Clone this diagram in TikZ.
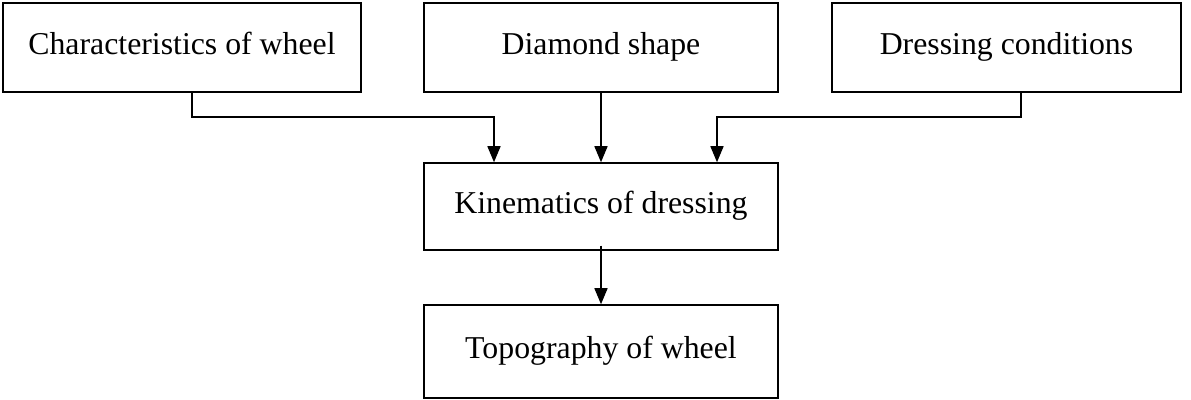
\documentclass[tikz,border=0pt]{standalone}
\usepackage{fontspec}
\setmainfont{Liberation Serif}
\usetikzlibrary{arrows.meta}
\begin{document}
\begin{tikzpicture}[x=0.5pt,y=-0.5pt,
  box/.style={draw,line width=0.75pt,inner sep=0pt,text height=0.8em,text depth=0.05em,font=\fontsize{15.9pt}{18pt}\selectfont},
  conn/.style={line width=0.75pt,-{Triangle[length=8pt,width=6.5pt]}},
  plain/.style={line width=0.75pt}]
\useasboundingbox (0,0) rectangle (1191,400);
\node[box,minimum width=179pt,minimum height=44.5pt] (cw) at (182,47.5) {Characteristics of wheel};
\node[box,minimum width=177pt,minimum height=44.5pt] (ds) at (601,47.5) {Diamond shape};
\node[box,minimum width=174.5pt,minimum height=44.5pt] (dc) at (1006.5,47.5) {Dressing conditions};
\node[box,minimum width=177pt,minimum height=43.5pt] (kd) at (601,206.5) {Kinematics of dressing};
\node[box,minimum width=177pt,minimum height=46.5pt] (tw) at (601,351.5) {Topography of wheel};
\coordinate (a1) at (192,117);
\coordinate (a2) at (494,117);
\coordinate (c1) at (1021,117);
\coordinate (c2) at (717,117);
\draw[conn] (cw.south -| a1) -- (a1) -- (a2) -- (kd.north -| a2);
\draw[conn] (ds.south) -- (kd.north);
\draw[conn] (dc.south -| c1) -- (c1) -- (c2) -- (kd.north -| c2);
\draw[conn] ([yshift=2.5pt]kd.south) -- (tw.north);
\end{tikzpicture}
\end{document}
